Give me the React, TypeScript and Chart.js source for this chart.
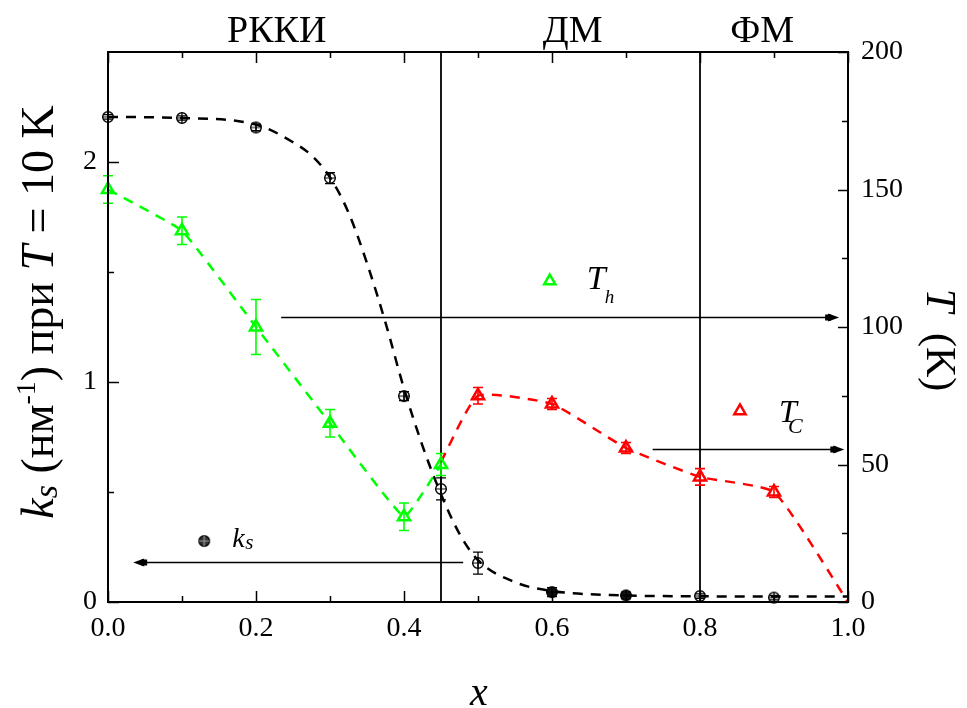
import React, { useEffect, useRef } from "react";
import { Chart, registerables } from "chart.js";

Chart.register(...registerables);

// Axis ticks
const xTicks = [0, 0.2, 0.4, 0.6, 0.8, 1.0];
const xMinorTicks = [0.1, 0.3, 0.5, 0.7, 0.9];
const ksTicks = [0, 1, 2];
const ksMinorTicks = [0.5, 1.5];
const tTicks = [0, 50, 100, 150, 200];
const tMinorTicks = [25, 75, 125, 175];

// k_s (nm^-1) at T = 10 K
const ksX = [0, 0.1, 0.2, 0.3, 0.4, 0.45, 0.5, 0.6, 0.7, 0.8, 0.9];
const ksY = [2.205, 2.2, 2.157, 1.927, 0.936, 0.514, 0.177, 0.045, 0.03, 0.027, 0.02];
const ksErr = [0.01, 0.01, 0.015, 0.025, 0.02, 0.05, 0.05, 0.02, 0.015, 0.01, 0.01];
const ksFilled = [false, false, false, false, false, false, false, true, true, false, false];

// fitted k_s curve
const ksFitX = [0, 0.1, 0.2, 0.25, 0.275, 0.3, 0.325, 0.35, 0.375, 0.4, 0.425, 0.45, 0.475, 0.5, 0.55, 0.6, 0.7, 0.8, 0.9, 1.0];
const ksFitY = [2.205, 2.2, 2.17, 2.09, 2.03, 1.93, 1.77, 1.54, 1.27, 0.97, 0.71, 0.49, 0.31, 0.19, 0.09, 0.05, 0.03, 0.026, 0.025, 0.025];

// T_h (K)
const thX = [0, 0.1, 0.2, 0.3, 0.4, 0.45];
const thY = [150, 135, 100, 65, 31, 50];
const thErr = [5, 5, 10, 5, 5, 4];

// T_C (K)
const tcX = [0.45, 0.5, 0.6, 0.7, 0.8, 0.9, 1.0];
const tcY = [51, 75, 72, 56, 45.5, 40, 0];
const tcErr = [0, 3, 2, 2, 3, 2, 0];
const tcMarked = [false, true, true, true, true, true, false];

// Phase regions
const phaseBounds = [0.45, 0.8];
const phaseNames = ["РККИ", "ДМ", "ФМ"];
const phaseNameX = [0.228, 0.628, 0.884];

// Guide arrows: axis, level, start x, tip x
const arrowAxis = ["y2", "y2", "y"];
const arrowLevel = [103.5, 55.6, 0.18];
const arrowFrom = [0.234, 0.736, 0.48];
const arrowTo = [0.988, 0.995, 0.034];

const SERIF = '"Liberation Serif", "Times New Roman", serif';
const GREEN = "#00ff00";
const RED = "#ff0000";

function circlePlus(filled: boolean, legend = false): HTMLCanvasElement {
  const c = document.createElement("canvas");
  c.width = 16;
  c.height = 16;
  const g = c.getContext("2d")!;
  g.lineWidth = 1.4;
  g.strokeStyle = "#000";
  g.beginPath();
  g.arc(8, 8, 5.3, 0, Math.PI * 2);
  if (filled) {
    g.fillStyle = legend ? "#333" : "#111";
    g.fill();
  }
  g.stroke();
  g.beginPath();
  g.moveTo(2.5, 8);
  g.lineTo(13.5, 8);
  g.moveTo(8, 2.5);
  g.lineTo(8, 13.5);
  g.strokeStyle = filled && legend ? "#999" : "#000";
  g.lineWidth = 1.2;
  g.stroke();
  return c;
}

type Run = { text: string; font: string; dy?: number };

function drawRuns(ctx: CanvasRenderingContext2D, runs: Run[], x: number, y: number, align: "left" | "center") {
  ctx.textAlign = "left";
  ctx.textBaseline = "alphabetic";
  const widths = runs.map((r) => {
    ctx.font = r.font;
    return ctx.measureText(r.text).width;
  });
  const total = widths.reduce((a, b) => a + b, 0);
  let cx = align === "center" ? x - total / 2 : x;
  runs.forEach((r, i) => {
    ctx.font = r.font;
    ctx.fillText(r.text, cx, y + (r.dy || 0));
    cx += widths[i];
  });
}

function errorBars(chart: any, xs: number[], ys: number[], es: number[], axis: string, color: string, lw: number) {
  const ctx = chart.ctx;
  const sx = chart.scales.x;
  const sy = chart.scales[axis];
  ctx.save();
  ctx.strokeStyle = color;
  ctx.lineWidth = lw;
  ctx.setLineDash([]);
  xs.forEach((xv, i) => {
    const e = es[i];
    if (!e) return;
    const px = sx.getPixelForValue(xv);
    const top = sy.getPixelForValue(ys[i] + e);
    const bot = sy.getPixelForValue(ys[i] - e);
    ctx.beginPath();
    ctx.moveTo(px, top);
    ctx.lineTo(px, bot);
    ctx.moveTo(px - 5, top);
    ctx.lineTo(px + 5, top);
    ctx.moveTo(px - 5, bot);
    ctx.lineTo(px + 5, bot);
    ctx.stroke();
  });
  ctx.restore();
}

const decorPlugin = {
  id: "decor",
  beforeDatasetsDraw(chart: any) {
    const ctx = chart.ctx as CanvasRenderingContext2D;
    const { top, bottom } = chart.chartArea;
    const sx = chart.scales.x;
    ctx.save();
    ctx.strokeStyle = "#000";
    ctx.lineWidth = 1.8;
    phaseBounds.forEach((b) => {
      const px = Math.round(sx.getPixelForValue(b));
      ctx.beginPath();
      ctx.moveTo(px, top);
      ctx.lineTo(px, bottom);
      ctx.stroke();
    });
    // guide arrows
    ctx.lineWidth = 1.6;
    arrowAxis.forEach((ax, i) => {
      const py = Math.round(chart.scales[ax].getPixelForValue(arrowLevel[i])) + 0.5;
      const x0 = sx.getPixelForValue(arrowFrom[i]);
      const x1 = sx.getPixelForValue(arrowTo[i]);
      const dir = x1 > x0 ? 1 : -1;
      ctx.beginPath();
      ctx.moveTo(x0, py);
      ctx.lineTo(x1 - dir * 6, py);
      ctx.stroke();
      ctx.fillStyle = "#000";
      ctx.beginPath();
      ctx.moveTo(x1, py);
      ctx.lineTo(x1 - dir * 11, py - 4);
      ctx.lineTo(x1 - dir * 11, py + 4);
      ctx.closePath();
      ctx.fill();
      ctx.fillRect(Math.min(x1 - dir * 14, x1 - dir * 8), py - 3, 6, 6);
    });
    ctx.restore();
    // error bars
    errorBars(chart, thX, thY, thErr, "y2", GREEN, 1.6);
    errorBars(chart, tcX, tcY, tcErr, "y2", RED, 1.6);
    errorBars(chart, ksX, ksY, ksErr, "y", "#000", 1.3);
  },
  afterDraw(chart: any) {
    const ctx = chart.ctx as CanvasRenderingContext2D;
    const { left, right, top, bottom } = chart.chartArea;
    const sx = chart.scales.x;
    const sy = chart.scales.y;
    const sy2 = chart.scales.y2;
    ctx.save();
    ctx.strokeStyle = "#000";
    ctx.setLineDash([]);
    ctx.lineWidth = 2;
    ctx.strokeRect(left, top, right - left, bottom - top);

    // inward tick marks
    ctx.lineWidth = 1.5;
    const hTick = (v: number, len: number) => {
      const px = Math.round(sx.getPixelForValue(v)) + 0.5;
      ctx.beginPath();
      ctx.moveTo(px, bottom);
      ctx.lineTo(px, bottom - len);
      ctx.moveTo(px, top);
      ctx.lineTo(px, top + len);
      ctx.stroke();
    };
    xTicks.forEach((v) => hTick(v, 11));
    xMinorTicks.forEach((v) => hTick(v, 6));
    const lTick = (v: number, len: number) => {
      const py = Math.round(sy.getPixelForValue(v)) + 0.5;
      ctx.beginPath();
      ctx.moveTo(left, py);
      ctx.lineTo(left + len, py);
      ctx.stroke();
    };
    ksTicks.forEach((v) => lTick(v, 11));
    ksMinorTicks.forEach((v) => lTick(v, 6));
    const rTick = (v: number, len: number) => {
      const py = Math.round(sy2.getPixelForValue(v)) + 0.5;
      ctx.beginPath();
      ctx.moveTo(right, py);
      ctx.lineTo(right - len, py);
      ctx.stroke();
    };
    tTicks.forEach((v) => rTick(v, 10));
    tMinorTicks.forEach((v) => rTick(v, 6));

    ctx.fillStyle = "#000";
    // phase names
    phaseNames.forEach((n, i) => {
      drawRuns(ctx, [{ text: n, font: `38px ${SERIF}` }], sx.getPixelForValue(phaseNameX[i]), 42, "center");
    });

    // x axis title
    drawRuns(ctx, [{ text: "x", font: `italic 40px ${SERIF}` }], 479, 705, "center");

    // left axis title
    ctx.save();
    ctx.translate(53, 312);
    ctx.rotate(-Math.PI / 2);
    drawRuns(
      ctx,
      [
        { text: "k", font: `italic 46px ${SERIF}` },
        { text: "s", font: `italic 34px ${SERIF}`, dy: 4 },
        { text: " (нм", font: `46px ${SERIF}` },
        { text: "-1", font: `28px ${SERIF}`, dy: -18 },
        { text: ") при ", font: `46px ${SERIF}` },
        { text: "T", font: `italic 46px ${SERIF}` },
        { text: " = 10 K", font: `46px ${SERIF}` },
      ],
      0,
      0,
      "center"
    );
    ctx.restore();

    // right axis title
    ctx.save();
    ctx.translate(927, 340);
    ctx.rotate(Math.PI / 2);
    drawRuns(
      ctx,
      [
        { text: "T", font: `italic 42px ${SERIF}` },
        { text: "  (K)", font: `42px ${SERIF}` },
      ],
      0,
      0,
      "center"
    );
    ctx.restore();

    // legend entries
    const lk = { x: sx.getPixelForValue(0.13), y: sy.getPixelForValue(0.277) };
    ctx.drawImage(circlePlus(true, true), lk.x - 8, lk.y - 8);
    drawRuns(ctx, [{ text: "k", font: `italic 28px ${SERIF}` }], lk.x + 28, lk.y + 6, "left");
    drawRuns(ctx, [{ text: "s", font: `italic 21px ${SERIF}` }], lk.x + 41, lk.y + 8, "left");

    const drawTri = (x: number, y: number, color: string) => {
      ctx.save();
      ctx.strokeStyle = color;
      ctx.lineWidth = 2.5;
      ctx.beginPath();
      const r = 6.5;
      for (let k = 0; k < 3; k++) {
        const a = (k * 2 * Math.PI) / 3;
        const px = x + Math.sin(a) * r;
        const py = y - Math.cos(a) * r;
        if (k === 0) ctx.moveTo(px, py);
        else ctx.lineTo(px, py);
      }
      ctx.closePath();
      ctx.stroke();
      ctx.restore();
    };
    const lh = { x: sx.getPixelForValue(0.597), y: sy2.getPixelForValue(116.7) };
    drawTri(lh.x, lh.y, GREEN);
    drawRuns(ctx, [{ text: "T", font: `italic 34px ${SERIF}` }], lh.x + 37, lh.y + 8, "left");
    drawRuns(ctx, [{ text: "h", font: `italic 19px ${SERIF}` }], lh.x + 55, lh.y + 22, "left");

    const lc = { x: sx.getPixelForValue(0.854), y: sy2.getPixelForValue(69.5) };
    drawTri(lc.x, lc.y, RED);
    drawRuns(ctx, [{ text: "T", font: `italic 32px ${SERIF}` }], lc.x + 39, lc.y + 11, "left");
    drawRuns(ctx, [{ text: "C", font: `italic 22px ${SERIF}` }], lc.x + 48, lc.y + 22, "left");

    ctx.restore();
  },
};

export default function App() {
  const ref = useRef<HTMLCanvasElement | null>(null);

  useEffect(() => {
    if (!ref.current) return;
    const openMark = circlePlus(false);
    const filledMark = circlePlus(true);
    const tickFont = { family: SERIF, size: 28 };

    const chart = new Chart(ref.current, {
      type: "scatter",
      data: {
        datasets: [
          {
            label: "k_s fit",
            data: ksFitX.map((x, i) => ({ x, y: ksFitY[i] })),
            yAxisID: "y",
            showLine: true,
            borderColor: "#000",
            borderWidth: 2.5,
            borderDash: [10, 8],
            pointRadius: 0,
            cubicInterpolationMode: "monotone",
          },
          {
            label: "T_h",
            data: thX.map((x, i) => ({ x, y: thY[i] })),
            yAxisID: "y2",
            showLine: true,
            borderColor: GREEN,
            borderWidth: 2.5,
            borderDash: [10, 8],
            tension: 0.1,
            pointStyle: "triangle",
            pointRadius: 7,
            pointBorderWidth: 2.5,
            pointBorderColor: GREEN,
            pointBackgroundColor: "rgba(255,255,255,0)",
            clip: false,
          },
          {
            label: "T_C",
            data: tcX.map((x, i) => ({ x, y: tcY[i] })),
            yAxisID: "y2",
            showLine: true,
            borderColor: RED,
            borderWidth: 2.5,
            borderDash: [10, 8],
            tension: 0.15,
            pointStyle: "triangle",
            pointRadius: tcMarked.map((m) => (m ? 7 : 0)),
            pointBorderWidth: 2.5,
            pointBorderColor: RED,
            pointBackgroundColor: "rgba(255,255,255,0)",
            clip: false,
          },
          {
            label: "k_s",
            data: ksX.map((x, i) => ({ x, y: ksY[i] })),
            yAxisID: "y",
            showLine: false,
            pointStyle: ksFilled.map((f) => (f ? filledMark : openMark)),
            pointRadius: 6,
            clip: false,
          },
        ],
      } as any,
      options: {
        animation: false,
        responsive: false,
        devicePixelRatio: 1,
        layout: { padding: { top: 52, left: 0, right: 0, bottom: 0 } },
        plugins: { legend: { display: false }, tooltip: { enabled: false } },
        scales: {
          x: {
            type: "linear",
            position: "bottom",
            min: 0,
            max: 1,
            afterBuildTicks: (s: any) => {
              s.ticks = xTicks.map((v) => ({ value: v }));
            },
            afterFit: (s: any) => {
              s.height = 106;
            },
            ticks: {
              callback: (v: any) => Number(v).toFixed(1),
              font: tickFont,
              color: "#000",
              padding: 10,
              maxRotation: 0,
              autoSkip: false,
            },
            grid: { display: false, drawTicks: false },
            border: { display: false },
          },
          y: {
            type: "linear",
            position: "left",
            min: 0,
            max: 2.5,
            afterBuildTicks: (s: any) => {
              s.ticks = ksTicks.map((v) => ({ value: v }));
            },
            afterFit: (s: any) => {
              s.width = 108;
            },
            ticks: { callback: (v: any) => String(v), font: tickFont, color: "#000", padding: 11 },
            grid: { display: false, drawTicks: false },
            border: { display: false },
          },
          y2: {
            type: "linear",
            position: "right",
            min: 0,
            max: 200,
            afterBuildTicks: (s: any) => {
              s.ticks = tTicks.map((v) => ({ value: v }));
            },
            afterFit: (s: any) => {
              s.width = 119;
            },
            ticks: { callback: (v: any) => String(v), font: tickFont, color: "#000", padding: 13 },
            grid: { display: false, drawTicks: false },
            border: { display: false },
          },
        },
      } as any,
      plugins: [decorPlugin],
    });
    return () => chart.destroy();
  }, []);

  return (
    <div style={{ position: "fixed", left: 0, top: 0, width: 967, height: 708, background: "#fff" }}>
      <canvas ref={ref} width={967} height={708} />
    </div>
  );
}
